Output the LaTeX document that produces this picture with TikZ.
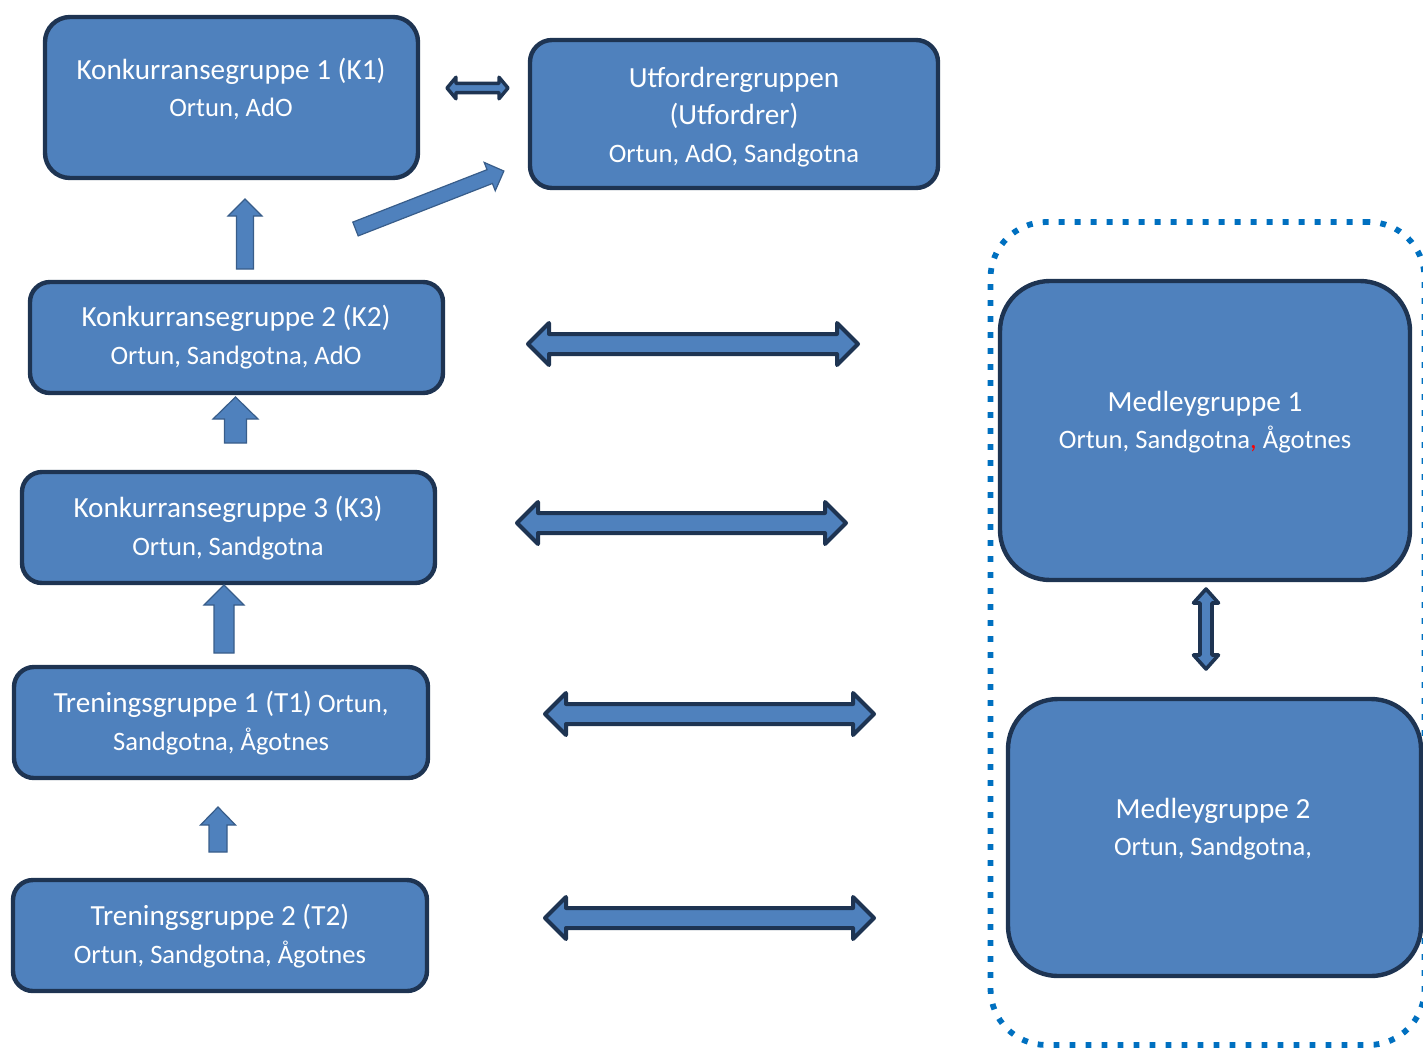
\documentclass[tikz,border=0pt]{standalone}
\usepackage{fontspec}
\setmainfont{Carlito}
\usetikzlibrary{fit}

\definecolor{grpfill}{RGB}{79,129,189}
\definecolor{grpline}{RGB}{30,52,82}
\definecolor{arrline}{RGB}{56,93,138}
\definecolor{medleyframe}{RGB}{0,112,192}

\newcommand{\hdfont}{\fontsize{14.6}{18.8}\selectfont}

% angle and length from coordinate #1 to coordinate #2
\newcommand{\blkangle}[2]{%
  \pgfpointdiff{\pgfpointanchor{#1}{center}}{\pgfpointanchor{#2}{center}}%
  \pgfgetlastxy{\blkdx}{\blkdy}%
  \pgfmathsetmacro\blkang{atan2(\blkdy,\blkdx)}%
  \pgfmathsetmacro\blklen{veclen(\blkdx,\blkdy)}}
% block arrows: [style]{from}{to}{shaft half}{head half}{head length}
\newcommand{\onearrow}[6][]{%
  \blkangle{#2}{#3}%
  \draw[#1,shift={(#2)},rotate=\blkang]
    (0pt,#4) -- (\blklen pt-#6,#4) -- (\blklen pt-#6,#5) -- (\blklen pt,0pt)
    -- (\blklen pt-#6,-#5) -- (\blklen pt-#6,-#4) -- (0pt,-#4) -- cycle;}
\newcommand{\twoarrow}[6][]{%
  \blkangle{#2}{#3}%
  \draw[#1,shift={(#2)},rotate=\blkang]
    (0pt,0pt) -- (#6,#5) -- (#6,#4) -- (\blklen pt-#6,#4) -- (\blklen pt-#6,#5)
    -- (\blklen pt,0pt) -- (\blklen pt-#6,-#5) -- (\blklen pt-#6,-#4)
    -- (#6,-#4) -- (#6,-#5) -- cycle;}

\tikzset{
  grp/.style={draw=grpline, fill=grpfill, line width=2.2pt, inner sep=0pt, rounded corners=10pt},
  grptext/.style={text=white, align=center, font=\fontsize{13.3}{18.8}\selectfont},
  medleybox/.style={draw=medleyframe, line width=2.9pt, dash pattern=on 2.9pt off 5.1pt,
    inner sep=0pt, rounded corners=28pt},
  blkone/.style={fill=grpfill, draw=arrline, line width=0.6pt},
  blktwo/.style={fill=grpfill, draw=grpline, line width=2pt, line join=round},
}

\begin{document}
\begin{tikzpicture}[x=0.5pt,y=-0.5pt]
\path[use as bounding box] (0,0) rectangle (1423,1055);
\clip (0,0) rectangle (1423,1055);
%
% dotted frame round the medley groups
\node[medleybox, fit={(990.5,222) (1424.5,1045)}] (medley) {};
%
% group boxes
\node[grp, rounded corners=12.5pt, fit={(45,17) (418,178)}] (k1) {};
\node[grp, rounded corners=11pt, fit={(530,40) (938,188)}] (utf) {};
\node[grp, fit={(30,282) (443,393)}] (k2) {};
\node[grp, fit={(22,472) (435,583)}] (k3) {};
\node[grp, fit={(14,667) (428,778)}] (t1) {};
\node[grp, fit={(13,880) (427,991)}] (t2) {};
\node[grp, rounded corners=25pt, fit={(1000,281) (1410,580)}] (m1) {};
\node[grp, rounded corners=25pt, fit={(1008,699) (1421,976)}] (m2) {};
%
% texts
\node[grptext] (k1t) at (231,89) {{\hdfont Konkurransegruppe 1 (K1)}\\Ortun, AdO};
\node[grptext] (utft) at (734,117) {{\hdfont Utfordrergruppen}\\{\hdfont (Utfordrer)}\\Ortun, AdO, Sandgotna};
\node[grptext] (k2t) at (236,337) {{\hdfont Konkurransegruppe 2 (K2)}\\Ortun, Sandgotna, AdO};
\node[grptext] (k3t) at (228,528) {{\hdfont Konkurransegruppe 3 (K3)}\\Ortun, Sandgotna};
\node[grptext] (t1t) at (221,723) {{\hdfont Treningsgruppe 1 (T1)} Ortun,\\Sandgotna, Ågotnes};
\node[grptext] (t2t) at (220,936) {{\hdfont Treningsgruppe 2 (T2)}\\Ortun, Sandgotna, Ågotnes};
\node[grptext] (m1t) at (1205,422) {{\hdfont Medleygruppe 1}\\Ortun, Sandgotna{\color{red},} Ågotnes};
\node[grptext] (m2t) at (1213,829) {{\hdfont Medleygruppe 2}\\Ortun, Sandgotna,};
%
% arrow ends
\coordinate (k1l) at (447,88);   \coordinate (utfl) at (508,88);
\coordinate (k2r) at (528,344);  \coordinate (k2e) at (858,344);
\coordinate (k3r) at (517,523);  \coordinate (k3e) at (846,523);
\coordinate (t1r) at (545,714);  \coordinate (t1e) at (874,714);
\coordinate (t2r) at (545,918);  \coordinate (t2e) at (874,918);
\coordinate (m1d) at (1206,589); \coordinate (m2u) at (1206,669);
\coordinate (k2u0) at (245,269); \coordinate (k2u1) at (245,199);
\coordinate (k3u0) at (235.5,443); \coordinate (k3u1) at (235.5,397);
\coordinate (t1u0) at (224,653); \coordinate (t1u1) at (224,585);
\coordinate (t2u0) at (218,852); \coordinate (t2u1) at (218,807);
\coordinate (utf0) at (355.5,229); \coordinate (utf1) at (504,171);
%
% double arrows
\twoarrow[blktwo, line width=1.7pt]{k1l}{utfl}{2.3pt}{5.4pt}{4.5pt}
\twoarrow[blktwo]{k2r}{k2e}{5pt}{10.5pt}{10.5pt}
\twoarrow[blktwo]{k3r}{k3e}{5pt}{10.5pt}{10.5pt}
\twoarrow[blktwo]{t1r}{t1e}{5pt}{10.5pt}{10.5pt}
\twoarrow[blktwo]{t2r}{t2e}{5pt}{10.5pt}{10.5pt}
\twoarrow[blktwo, line width=1.8pt]{m1d}{m2u}{3pt}{6.25pt}{7pt}
%
% up arrows
\onearrow[blkone]{k2u0}{k2u1}{4.25pt}{8.5pt}{8.5pt}
\onearrow[blkone]{k3u0}{k3u1}{5.5pt}{11.25pt}{11pt}
\onearrow[blkone]{t1u0}{t1u1}{5pt}{10pt}{10pt}
\onearrow[blkone]{t2u0}{t2u1}{4.5pt}{8.75pt}{9pt}
\onearrow[blkone]{utf0}{utf1}{3.7pt}{7.6pt}{7.6pt}
\end{tikzpicture}
\end{document}
